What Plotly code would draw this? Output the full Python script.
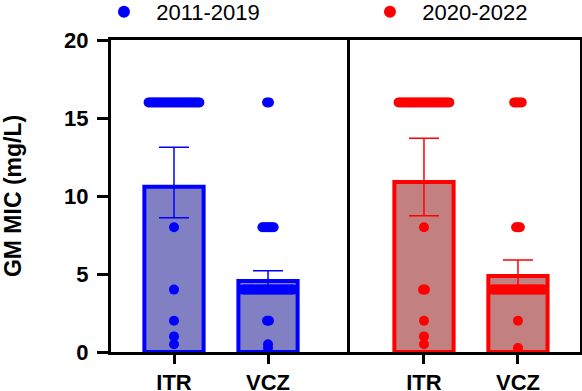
import plotly.graph_objects as go
from plotly.subplots import make_subplots

# ---------------- data ----------------
categories = ["ITR", "VCZ"]
periods = ["2011-2019", "2020-2022"]

gm_2011 = [10.6, 4.55]
err_up_2011 = [2.52, 0.66]
err_dn_2011 = [1.99, 0.65]

gm_2020 = [10.9, 4.87]
err_up_2020 = [2.8, 1.03]
err_dn_2020 = [2.16, 0.9]

# MIC values of individual isolates (value -> count)
mic_values = [16, 8, 4, 2, 1, 0.5, 0.25]
counts_2011_itr = [28, 1, 1, 1, 1, 1, 0]
counts_2011_vcz = [2, 7, 28, 2, 0, 1, 1]
counts_2020_itr = [28, 1, 2, 1, 1, 1, 0]
counts_2020_vcz = [5, 3, 28, 1, 0, 0, 1]

# ---------------- style ----------------
blue = "#0000FF"
red = "#FF0000"
blue_fill = "#8080C2"
red_fill = "#C28080"
FONT = "Liberation Sans, Arial, sans-serif"
STEP = 0.02  # horizontal spread of stacked dots (axis units)


def spread(pos, values, counts):
    xs, ys = [], []
    for v, n in zip(values, counts):
        for i in range(n):
            xs.append(pos + (i - (n - 1) / 2) * STEP)
            ys.append(v)
    return xs, ys


fig = make_subplots(rows=1, cols=2, shared_yaxes=True, horizontal_spacing=0)

panels = [
    (1, periods[0], gm_2011, err_up_2011, err_dn_2011, [counts_2011_itr, counts_2011_vcz], blue, blue_fill),
    (2, periods[1], gm_2020, err_up_2020, err_dn_2020, [counts_2020_itr, counts_2020_vcz], red, red_fill),
]

for col, name, gm, eu, ed, cnts, c, fill in panels:
    fig.add_trace(go.Bar(
        x=[0, 1], y=gm, width=0.63,
        marker=dict(color=fill, line=dict(color=c, width=4)),
        error_y=dict(type="data", symmetric=False, array=eu, arrayminus=ed,
                     color=c, thickness=1.5, width=15),
        showlegend=False, hoverinfo="skip",
    ), row=1, col=col)
    for k, cnt in enumerate(cnts):
        xs, ys = spread(k, mic_values, cnt)
        fig.add_trace(go.Scatter(
            x=xs, y=ys, mode="markers",
            marker=dict(color=c, size=10, line=dict(width=0)),
            name="  " + name, legendgroup=name, showlegend=(k == 0),
        ), row=1, col=col)

tick_bold = dict(family=FONT, size=22, color="black", weight="bold")
cat_bold = dict(family=FONT, size=22, color="black", weight="bold")

fig.update_xaxes(showline=True, linecolor="black", linewidth=3, mirror=True,
                 showgrid=False, zeroline=False,
                 tickvals=[0, 1], ticktext=categories,
                 ticks="outside", ticklen=9, tickwidth=3, tickcolor="black",
                 ticklabelstandoff=0, tickfont=cat_bold)
fig.update_layout(
    xaxis=dict(domain=[0, 0.5032], range=[-0.67, 1.84]),
    xaxis2=dict(domain=[0.5032, 1], range=[-0.819, 1.66]),
)
fig.update_yaxes(showgrid=False, zeroline=False, range=[0, 20])
fig.update_layout(
    yaxis=dict(showline=True, linecolor="black", linewidth=3, mirror=True,
               tickvals=[0, 5, 10, 15, 20], ticks="outside", ticklen=11, tickwidth=3,
               tickcolor="black", ticklabelstandoff=4, tickfont=tick_bold,
               title=dict(text="GM MIC (mg/L)", standoff=46,
                          font=dict(family=FONT, size=23, color="black", weight="bold"))),
    yaxis2=dict(showline=True, linecolor="black", linewidth=3, mirror=False,
                side="right", showticklabels=False, ticks=""),
)

fig.update_layout(
    width=582, height=391,
    margin=dict(l=111, r=2, t=40, b=39, autoexpand=False),
    plot_bgcolor="white", paper_bgcolor="white",
    font=dict(family=FONT, color="black"),
    barmode="overlay",
    legend=dict(orientation="h", x=-0.015, xanchor="left", y=1.09, yanchor="middle",
                entrywidth=221, entrywidthmode="pixels",
                font=dict(family=FONT, size=22, color="black"),
                bgcolor="rgba(0,0,0,0)", itemsizing="constant"),
)

fig.write_html("out.html", config={"displayModeBar": False},
               post_script="document.body.style.margin='0';")
